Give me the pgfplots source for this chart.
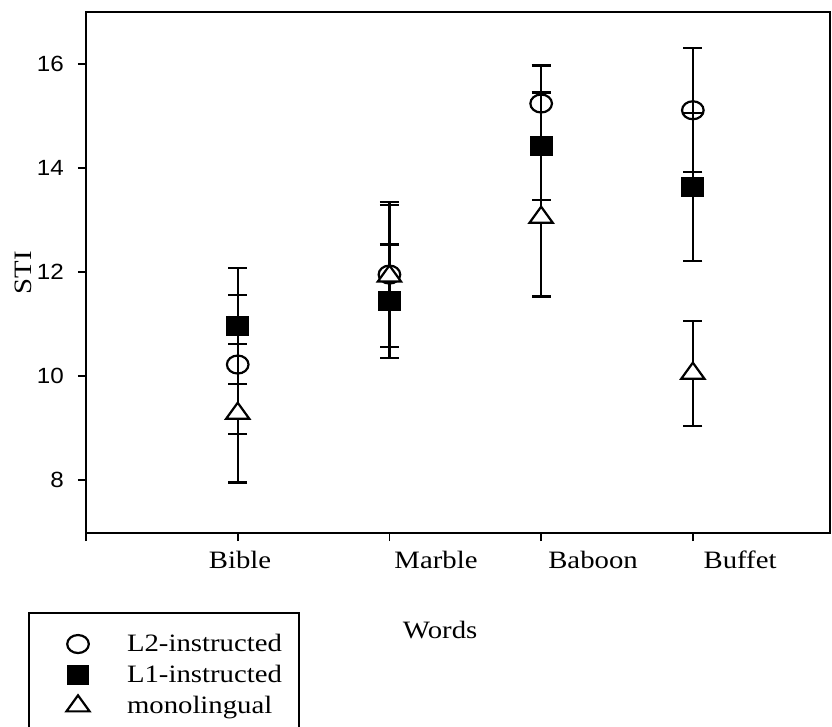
\documentclass[border=0pt]{standalone}
\usepackage{fontspec}
\setmainfont{Liberation Serif}[FakeStretch=1.15]
\newfontfamily\ticksans{Liberation Sans}[FakeStretch=1.1]
\usepackage{pgfplots}
\pgfplotsset{compat=1.18}
\begin{document}
\begin{tikzpicture}[x=1pt,y=1pt]
\useasboundingbox (0,0) rectangle (832,-727);
\clip (0,0) rectangle (832,-727);
\begin{axis}[
  at={(86pt,-533pt)}, anchor=south west,
  scale only axis, width=744pt, height=521pt,
  xmin=0, xmax=4.904, ymin=6.98, ymax=17.0,
  axis line style={line width=2.2pt},
  tick align=outside, tick pos=left,
  major tick length=8pt,
  every tick/.style={black, line width=1.8pt},
  xtick={0,1,2,3,4}, xticklabels={},
  extra x ticks={1.015,2.307,3.342,4.311},
  extra x tick labels={Bible,Marble,Baboon,Buffet},
  extra x tick style={major tick length=0pt},
  xticklabel style={font=\fontsize{25}{30}\selectfont, anchor=north, inner sep=0pt, yshift=-18pt},
  ytick={8,10,12,14,16},
  /pgf/number format/assume math mode=true,
  yticklabel style={font=\ticksans\fontsize{22}{22}\selectfont, anchor=east, inner sep=0pt, xshift=-14pt},
  xlabel={Words}, ylabel={STI},
  label style={font=\fontsize{25}{30}\selectfont},
  xlabel style={at={(axis description cs:0.476,-0.186)}, anchor=center},
  ylabel style={at={(axis description cs:-0.0847,0.5)}, anchor=center},
  legend image code/.code={\path[draw=none,fill=none] (-32pt,-15.5pt) rectangle (20pt,15.5pt); \draw[#1] plot coordinates {(0pt,0pt)};},
  legend style={at={(-0.0766,-0.1536)}, anchor=north west, draw=black, line width=2.2pt,
    inner xsep=17pt, inner ysep=15.5pt, outer sep=0pt,
    font=\fontsize{25}{30}\selectfont,
    nodes={inner sep=0pt}, cells={anchor=west}, column sep=29pt, row sep=0pt},
  clip=false,
]
\addplot[black, only marks, mark=o, mark size=9pt, line width=2.2pt, mark options={xscale=1.2},
  error bars/.cd, y dir=both, y explicit, error mark=|, error bar style={line width=2.2pt},
  error mark options={mark size=9.5pt, line width=2.2pt}]
  table[x=x, y=y, y error=e] {
  x y e
  1 10.22 1.33
  2 11.95 1.40
  3 15.24 0.73
  4 15.11 1.19
};
\addplot[black, only marks, mark=square*, mark size=9pt, line width=2.2pt, mark options={xscale=1.15, fill=black},
  error bars/.cd, y dir=both, y explicit, error mark=|, error bar style={line width=2.2pt},
  error mark options={mark size=9.5pt, line width=2.2pt}]
  table[x=x, y=y, y error=e] {
  x y e
  1 10.96 1.12
  2 11.44 1.09
  3 14.42 1.03
  4 13.63 1.42
};
\addplot[black, only marks, mark=triangle*, mark size=10.7pt, line width=2.2pt, mark options={xscale=1.25, fill=white},
  error bars/.cd, y dir=both, y explicit, error mark=|, error bar style={line width=2.2pt},
  error mark options={mark size=9.5pt, line width=2.2pt}]
  table[x=x, y=y, y error=e] {
  x y e
  1 9.28 1.33
  2 11.92 1.37
  3 13.05 1.52
  4 10.05 1.01
};
\legend{L2-instructed, L1-instructed, monolingual}
\end{axis}
\end{tikzpicture}
\end{document}
